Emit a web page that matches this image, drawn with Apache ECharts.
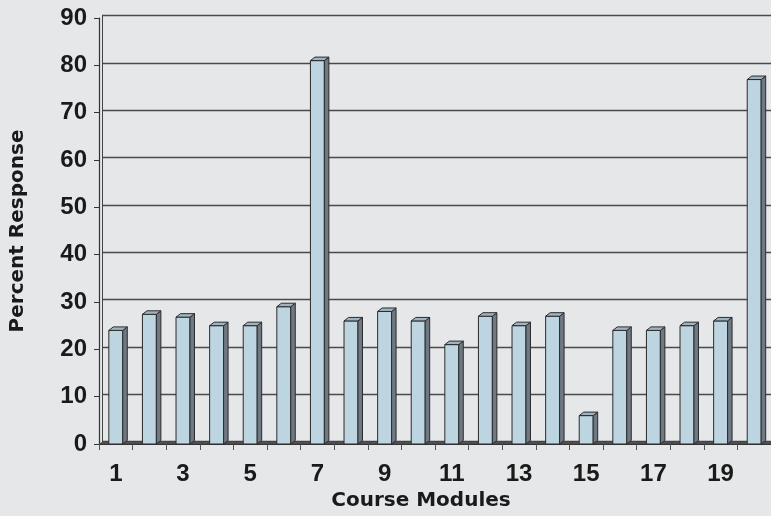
<!DOCTYPE html>
<html><head><meta charset="utf-8">
<script src="https://cdn.jsdelivr.net/npm/echarts@6/dist/echarts.min.js"></script>
<style>html,body{margin:0;padding:0;background:#e6e7e9}#c{width:771px;height:516px}</style>
</head><body><div id="c"></div>
<script>
const categories = ['1','2','3','4','5','6','7','8','9','10','11','12','13','14','15','16','17','18','19','20'];
const values = [24, 27.4, 26.8, 25, 25, 29, 81, 26, 28, 26, 21, 27, 25, 27, 6, 24, 24, 25, 26, 77];
const yMin = 0, yMax = 90, yInterval = 10;
const xTitle = 'Course Modules';
const yTitle = 'Percent Response';

const chart = echarts.init(document.getElementById('c'), null, {renderer: 'canvas'});

function renderItem(params, api) {
  const idx = api.value(0);
  const top = api.coord([idx, api.value(1)]);
  const base = api.coord([idx, 0]);
  const cw = api.size([1, 0])[0];
  const bw = cw * 0.415;
  const dx = 4.5, dy = 3.5;
  const x0 = top[0] - bw / 2, x1 = top[0] + bw / 2;
  const fx0 = top[0] - cw / 2, fx1 = top[0] + cw / 2;
  return {
    type: 'group',
    children: [
      {type: 'polygon', shape: {points: [[fx0, base[1]], [fx1, base[1]], [fx1 + 4, base[1] - 2.5], [fx0 + 4, base[1] - 2.5]]},
        style: {fill: '#505255', stroke: '#3a3a3a', lineWidth: 0.5}},
      {type: 'rect', shape: {x: x0, y: top[1], width: bw, height: base[1] - top[1]},
        style: {fill: '#bdd4e1', stroke: '#2b2b2b', lineWidth: 1}},
      {type: 'polygon', shape: {points: [[x1, top[1]], [x1 + dx, top[1] - dy], [x1 + dx, base[1] - dy], [x1, base[1]]]},
        style: {fill: '#6f7983', stroke: '#2b2b2b', lineWidth: 1}},
      {type: 'polygon', shape: {points: [[x0, top[1]], [x0 + dx, top[1] - dy], [x1 + dx, top[1] - dy], [x1, top[1]]]},
        style: {fill: '#9fb3c0', stroke: '#2b2b2b', lineWidth: 1}}
    ]
  };
}

const tickFont = {fontFamily: 'Liberation Sans', fontWeight: 'bold', fontSize: 24, color: '#1a1a1a'};
const nameFont = {fontFamily: 'DejaVu Sans', fontWeight: 'bold', fontSize: 20, color: '#1a1a1a'};

chart.setOption({
  backgroundColor: '#e6e7e9',
  animation: false,
  grid: [
    {left: 98, top: 18, width: 676, height: 426},
    {left: 102, top: 15.5, width: 676, height: 426}
  ],
  xAxis: [
    {type: 'category', gridIndex: 0, data: categories, boundaryGap: true,
      axisLine: {show: true, lineStyle: {color: '#333', width: 1.2}},
      axisTick: {show: true, interval: 0, length: 6, lineStyle: {color: '#555'}},
      axisLabel: Object.assign({interval: 1, margin: 18}, tickFont),
      splitLine: {show: false},
      name: xTitle, nameLocation: 'middle', nameGap: 46,
      nameTextStyle: Object.assign({padding: [0, 28, 0, 0]}, nameFont)},
    {type: 'category', gridIndex: 1, data: categories, boundaryGap: true, show: false}
  ],
  yAxis: [
    {type: 'value', gridIndex: 0, min: yMin, max: yMax, interval: yInterval,
      axisLine: {show: true, lineStyle: {color: '#333', width: 1.2}},
      axisTick: {show: true, length: 5, lineStyle: {color: '#333'}},
      axisLabel: Object.assign({margin: 12}, tickFont),
      splitLine: {show: false},
      name: yTitle, nameLocation: 'middle', nameGap: 71, nameRotate: 90,
      nameTextStyle: nameFont},
    {type: 'value', gridIndex: 1, min: yMin, max: yMax, interval: yInterval,
      axisLine: {show: true, lineStyle: {color: '#444', width: 1}},
      axisTick: {show: false}, axisLabel: {show: false},
      splitLine: {show: true, lineStyle: {color: '#4a4a4a', width: 1.4}}}
  ],
  series: [
    {type: 'custom', xAxisIndex: 0, yAxisIndex: 0, renderItem: renderItem, clip: false,
      data: values.map((v, i) => [i, v])}
  ]
});
</script>
</body></html>
